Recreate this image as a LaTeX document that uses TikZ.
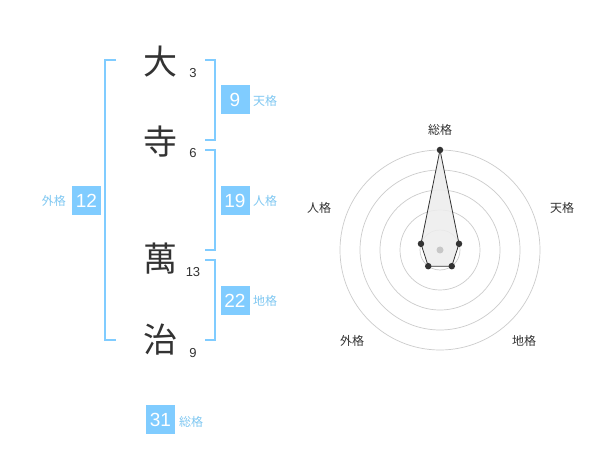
\documentclass[tikz,border=0pt]{standalone}
\usepackage{fontspec}
\setmainfont{Liberation Sans}
\newfontfamily\cjk{Noto Sans CJK JP}
\definecolor{brk}{HTML}{80CCFF}
\definecolor{boxc}{HTML}{80CCFF}
\definecolor{lblc}{HTML}{80C8F2}
\definecolor{ink}{HTML}{333333}
\tikzset{
  kanji/.style={font=\cjk\fontsize{34}{34}\selectfont, text=ink, inner sep=0pt},
  strk/.style={font=\fontsize{13}{13}\selectfont, text=ink, inner sep=0pt},
  numbox/.style={fill=boxc, text=white, minimum width=29pt, minimum height=29pt, inner sep=0pt, font=\fontsize{19}{19}\selectfont},
  lbl/.style={font=\cjk\fontsize{12}{12}\selectfont, text=lblc, inner sep=0pt},
  bracket/.style={draw=brk, line width=2pt},
  ring/.style={draw=black!20, line width=0.7pt},
  rlbl/.style={font=\cjk\fontsize{12}{12}\selectfont, text=ink, inner sep=0pt},
  dot/.style={circle, fill=ink, inner sep=0pt, minimum size=6.5pt},
}
\begin{document}
\begin{tikzpicture}[x=1pt,y=-1pt]
\useasboundingbox[fill=white] (0,0) rectangle (600,470);
% brackets
\draw[bracket] (116,60) -- (105,60) -- (105,340) -- (116,340);
\draw[bracket] (205,60) -- (215,60) -- (215,140) -- (205,140);
\draw[bracket] (205,150) -- (215,150) -- (215,250) -- (205,250);
\draw[bracket] (205,260) -- (215,260) -- (215,340) -- (205,340);
% kanji
\node[kanji] (k1) at (160,62) {大};
\node[kanji] (k2) at (160,142) {寺};
\node[kanji] (k3) at (160,259) {萬};
\node[kanji] (k4) at (160,340) {治};
\node[strk] (n1) at (193,73) {3};
\node[strk] (n2) at (193,153) {6};
\node[strk] (n3) at (193,272) {13};
\node[strk] (n4) at (193,353) {9};
% boxes
\node[numbox] (b1) at (235,100) {9};
\node[lbl, anchor=west] (l1) at (253,101) {天格};
\node[numbox] (b2) at (235,200.5) {19};
\node[lbl, anchor=west] (l2) at (253,201) {人格};
\node[numbox] (b3) at (235,300.5) {22};
\node[lbl, anchor=west] (l3) at (253,301) {地格};
\node[numbox] (b4) at (86.5,200.5) {12};
\node[lbl, anchor=east] (l4) at (66,201) {外格};
\node[numbox] (b5) at (160.5,419.5) {31};
\node[lbl, anchor=west] (l5) at (179,422) {総格};
% radar
\coordinate (c) at (440,250);
\foreach \r in {20,40,60,80,100} \draw[ring] (c) circle[radius=\r];
\coordinate (p1) at (440,150);
\coordinate (p2) at (459.02,243.82);
\coordinate (p3) at (451.76,266.18);
\coordinate (p4) at (428.24,266.18);
\coordinate (p5) at (420.98,243.82);
\fill[black!7, opacity=0.85] (p1) -- (p2) -- (p3) -- (p4) -- (p5) -- cycle;
\draw[ink, line width=0.8pt] (p1) -- (p2) -- (p3) -- (p4) -- (p5) -- cycle;
\fill[black!22] (c) circle[radius=3.5];
\foreach \p in {p1,p2,p3,p4,p5} \node[dot] at (\p) {};
\node[rlbl] (r1) at (440,130) {総格};
\node[rlbl] (r2) at (562,208) {天格};
\node[rlbl] (r3) at (524,341) {地格};
\node[rlbl] (r4) at (352,341) {外格};
\node[rlbl] (r5) at (319,208) {人格};
\end{tikzpicture}
\end{document}
